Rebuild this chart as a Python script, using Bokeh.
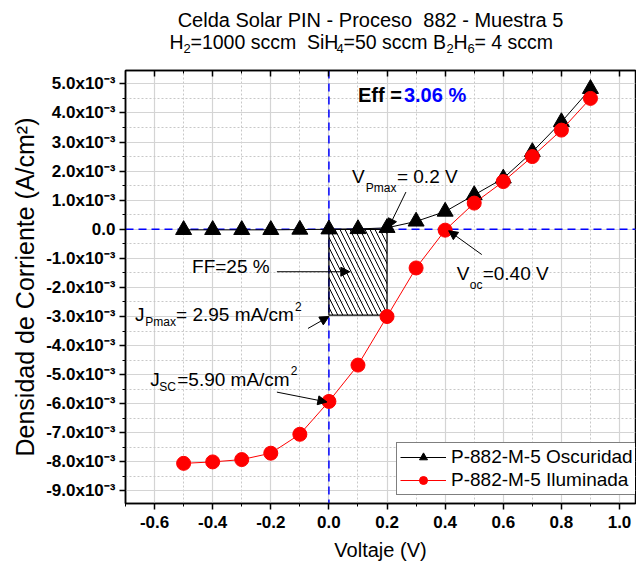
from bokeh.plotting import figure
from bokeh.layouts import column
from bokeh.models import (Range1d, FixedTicker, LinearAxis, PrintfTickFormatter, Span, Label,
                          Arrow, NormalHead, Legend, LegendItem)
from bokeh.core.properties import value
from bokeh.embed import file_html
from bokeh.resources import INLINE

# ---- data (current density in units of 1e-3 A/cm^2) ----
voltage = [-0.5, -0.4, -0.3, -0.2, -0.1, 0.0, 0.1, 0.2, 0.3, 0.4, 0.5, 0.6, 0.7, 0.8, 0.9]
j_dark = [-0.02, -0.02, -0.02, -0.02, -0.01, 0.0, 0.01, 0.05, 0.27, 0.61, 1.18, 1.75, 2.66, 3.69, 4.83]
j_light = [-8.05, -8.0, -7.92, -7.7, -7.05, -5.92, -4.67, -3.0, -1.33, -0.03, 0.9, 1.64, 2.5, 3.41, 4.5]

x_major = [-0.6, -0.4, -0.2, 0.0, 0.2, 0.4, 0.6, 0.8, 1.0]
x_minor = [-0.7, -0.5, -0.3, -0.1, 0.1, 0.3, 0.5, 0.7, 0.9]
y_major = [-9, -8, -7, -6, -5, -4, -3, -2, -1, 0, 1, 2, 3, 4, 5]
y_minor = [-9.5, -8.5, -7.5, -6.5, -5.5, -4.5, -3.5, -2.5, -1.5, -0.5, 0.5, 1.5, 2.5, 3.5, 4.5]
y_labels = {k: ("0.0" if k == 0 else f"{k}.0x10\u207b\u00b3") for k in y_major}

v_pmax = 0.2
j_pmax = 2.95
label_dark = "P-882-M-5 Oscuridad"
label_light = "P-882-M-5 Iluminada"

title_line1 = "Celda Solar PIN - Proceso \u00a0882 - Muestra 5"
title_line2 = [("H", "main"), ("2", "sub"), ("=1000 sccm \u00a0SiH", "main"), ("4", "sub"),
               ("=50 sccm B", "main"), ("2", "sub"), ("H", "main"), ("6", "sub"),
               ("= 4 sccm", "main")]

FONT = "Liberation Sans"
W = 636
LEFT = 125
RIGHT = 1
TH = 56

# ---------------- title strip (frame aligned with the main plot frame) ----------------
t = figure(width=W, height=TH, output_backend="svg", toolbar_location=None,
           x_range=Range1d(LEFT, W - RIGHT), y_range=Range1d(TH, 0),
           x_axis_type=None, y_axis_type=None,
           min_border_left=LEFT, min_border_right=RIGHT, min_border_top=0, min_border_bottom=0)
t.outline_line_color = None
t.xgrid.visible = False
t.ygrid.visible = False
t.text(x=[370], y=[19], text=[title_line1], text_font=value(FONT), text_font_size="20px",
       text_align="center", text_baseline="middle", text_color="black")
line2_x = [169, 183, 190, 336, 343, 446, 453, 467, 474]
for (txt, kind), xx in zip(title_line2, line2_x):
    t.text(x=[xx], y=[41 if kind == "main" else 48], text=[txt], text_font=value(FONT),
           text_font_size="19.5px" if kind == "main" else "13px",
           text_align="left", text_baseline="middle", text_color="black")

# ---------------- main plot ----------------
p = figure(width=W, height=563 - TH, output_backend="svg", toolbar_location=None,
           x_range=Range1d(-0.7, 1.055), y_range=Range1d(-9.43, 5.46),
           min_border_left=LEFT, min_border_right=RIGHT, min_border_top=70 - TH, min_border_bottom=58,
           background_fill_color="white", border_fill_color="white")
p.outline_line_color = "black"
p.outline_line_width = 1.5

xt = FixedTicker(ticks=x_major, minor_ticks=x_minor)
yt = FixedTicker(ticks=y_major, minor_ticks=y_minor)

p.xaxis.ticker = xt
p.yaxis.ticker = yt
p.xgrid.ticker = xt
p.ygrid.ticker = yt
p.xaxis.formatter = PrintfTickFormatter(format="%.1f")
p.yaxis.major_label_overrides = y_labels

for ax in (p.xaxis[0], p.yaxis[0]):
    ax.axis_line_color = "black"
    ax.axis_line_width = 1.5
    ax.major_tick_line_width = 1.5
    ax.major_tick_out = 6
    ax.major_tick_in = 0
    ax.minor_tick_out = 3
    ax.minor_tick_in = 0
    ax.major_label_text_font = FONT
    ax.major_label_text_font_style = "bold"
    ax.major_label_text_font_size = "17px"
    ax.major_label_text_color = "black"
    ax.axis_label_text_font = FONT
    ax.axis_label_text_font_style = "normal"
    ax.axis_label_text_color = "black"

p.xaxis.axis_label = "Voltaje (V)"
p.xaxis.axis_label_text_font_size = "20px"
p.xaxis.major_label_standoff = 6
p.xaxis.axis_label_standoff = 8
p.yaxis.axis_label = "Densidad de Corriente (A/cm\u00b2)"
p.yaxis.axis_label_text_font_size = "25px"
p.yaxis.major_label_standoff = 4
p.yaxis.axis_label_standoff = 4

top_axis = LinearAxis(ticker=xt, major_label_text_font_size="0px", major_label_text_color=None,
                      axis_line_width=1.5, major_tick_in=6, major_tick_out=0,
                      minor_tick_in=3, minor_tick_out=0, major_tick_line_width=1.5,
                      major_label_standoff=0)
p.add_layout(top_axis, "above")

for g in (p.xgrid[0], p.ygrid[0]):
    g.grid_line_color = "#d4d4d4"
    g.grid_line_width = 1.2
    g.minor_grid_line_color = "#c8c8c8"
    g.minor_grid_line_dash = "2 2"
    g.minor_grid_line_width = 1

# blue dashed reference lines
p.add_layout(Span(location=0, dimension="width", line_color="#0000ff", line_dash="8 5",
                  line_width=1.5, level="underlay"))
p.add_layout(Span(location=0, dimension="height", line_color="#0000ff", line_dash="8 5",
                  line_width=1.5, level="underlay"))

# hatched max power rectangle
p.quad(left=[0.0], right=[v_pmax], top=[0.0], bottom=[-j_pmax], fill_color=None,
       line_color="black", line_width=1.2, hatch_pattern="\\", hatch_color="black",
       hatch_scale=10, hatch_weight=1)

l_dark = p.line(voltage, j_dark, line_color="black", line_width=1)
s_dark = p.scatter(voltage, j_dark, marker="triangle", size=16, fill_color="black", line_color="black")
l_light = p.line(voltage, j_light, line_color="red", line_width=1)
s_light = p.scatter(voltage, j_light, marker="circle", size=14, fill_color="red", line_color="red")

legend = Legend(items=[LegendItem(label=label_dark, renderers=[l_dark, s_dark]),
                       LegendItem(label=label_light, renderers=[l_light, s_light])],
                location=(271, 8), border_line_color="black", border_line_width=1.2,
                background_fill_color="white", background_fill_alpha=1,
                label_text_font=FONT, label_text_font_size="19px", label_text_color="black",
                glyph_width=46, glyph_height=20, label_height=20, label_standoff=5,
                spacing=1, padding=3, margin=0)
p.add_layout(legend, "center")


def lab(x, y, text, size, color="black", style="normal", align="left"):
    p.add_layout(Label(x=x, y=y, text=text, text_font=FONT, text_font_size=size,
                       text_color=color, text_font_style=style, text_align=align,
                       text_baseline="middle"))


def arrow(x0, y0, x1, y1):
    p.add_layout(Arrow(end=NormalHead(size=9, fill_color="black", line_color="black"),
                       x_start=x0, y_start=y0, x_end=x1, y_end=y1,
                       line_color="black", line_width=1))

# efficiency
lab(0.100, 4.61, "Eff =", "20px", style="bold")
lab(0.258, 4.61, "3.06 %", "20px", color="#0000ff", style="bold")

# V_Pmax
lab(0.079, 1.83, "V", "19px")
lab(0.127, 1.42, "Pmax", "12px")
lab(0.234, 1.83, "= 0.2 V", "19px")
arrow(0.265, 1.28, 0.205, 0.05)

# V_oc
lab(0.440, -1.52, "V", "19px")
lab(0.485, -1.90, "oc", "12px")
lab(0.529, -1.52, "=0.40 V", "19px")
arrow(0.526, -0.87, 0.412, -0.05)

# FF
lab(-0.471, -1.28, "FF=25 %", "19px")
arrow(-0.179, -1.46, 0.072, -1.46)

# J_Pmax
lab(-0.667, -2.93, "J", "19px")
lab(-0.632, -3.20, "Pmax", "12px")
lab(-0.526, -2.93, "= 2.95 mA/cm", "19px")
lab(-0.117, -2.65, "2", "12px")
arrow(-0.072, -3.41, 0.0, -3.0)

# J_SC
lab(-0.615, -5.15, "J", "19px")
lab(-0.584, -5.43, "SC", "12px")
lab(-0.522, -5.15, "=5.90 mA/cm", "19px")
lab(-0.131, -4.85, "2", "12px")
arrow(-0.179, -5.60, -0.007, -5.94)

open("out.html", "w").write(file_html(column(t, p, spacing=0), INLINE))
